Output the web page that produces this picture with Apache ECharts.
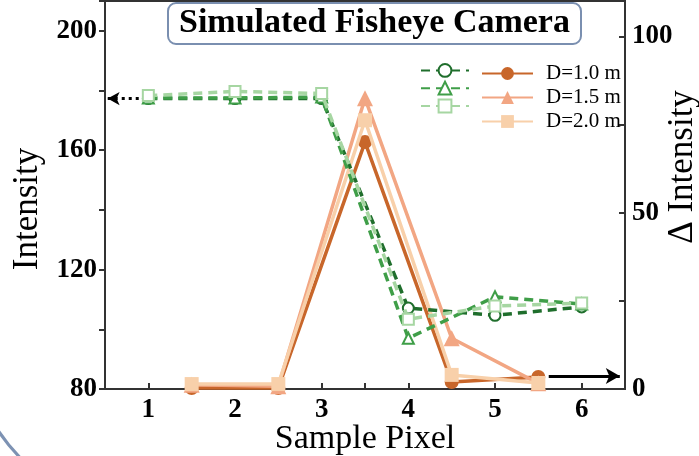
<!DOCTYPE html>
<html>
<head>
<meta charset="utf-8">
<script src="https://cdn.jsdelivr.net/npm/echarts@6/dist/echarts.min.js"></script>
<style>html,body{margin:0;padding:0;background:#fff;}#c{width:699px;height:456px;}</style>
</head>
<body>
<div id="c"></div>
<script>
// ---- data ----
const pixelsIntensity = [1, 2, 3, 4, 5, 6];
const pixelsDelta = [1.5, 2.5, 3.5, 4.5, 5.5];
const seriesLabels = ['D=1.0 m', 'D=1.5 m', 'D=2.0 m'];
const intensityD10 = [177.3, 177.3, 177.3, 107.1, 104.7, 107.5];
const intensityD15 = [177.5, 177.5, 177.8, 97.0, 110.9, 108.5];
const intensityD20 = [178.3, 179.7, 179.0, 103.4, 107.8, 108.8];
const deltaD10 = [0.3, 0.3, 70.0, 2.0, 3.4];
const deltaD15 = [1.2, 0.8, 82.4, 14.4, 1.6];
const deltaD20 = [1.4, 1.4, 76.2, 4.0, 1.7];
const xTickLabels = [1, 2, 3, 4, 5, 6];
const leftTickLabels = [80, 120, 160, 200];
const rightTickLabels = [0, 50, 100];
const leftArrow = [[0.97, 177.3], [0.53, 177.3]];
const rightArrow = [[5.62, 3.7], [6.44, 3.7]];

const serif = '"Liberation Serif", "Times New Roman", serif';
const greens = ['#1f6e2c', '#3f9e48', '#a6d6a2'];
const oranges = ['#c8662a', '#f2a683', '#f8d0aa'];
const gSymbols = ['emptyCircle', 'emptyTriangle', 'emptyRect'];
const oSymbols = ['circle', 'triangle', 'rect'];
const oSizes = [14, 16, 14];

const zip = (xs, ys) => xs.map((x, i) => [x, ys[i]]);
const intensities = [intensityD10, intensityD15, intensityD20];
const deltas = [deltaD10, deltaD15, deltaD20];

const series = [];
deltas.forEach((d, i) => {
  const s = {
    name: seriesLabels[i],
    type: 'line',
    xAxisIndex: 0, yAxisIndex: 1,
    data: zip(pixelsDelta, d),
    symbol: oSymbols[i], symbolSize: oSizes[i],
    lineStyle: { color: oranges[i], width: 3.5 },
    itemStyle: { color: oranges[i] },
    emphasis: { disabled: true },
    z: 2 + i
  };
  if (i === 0) {
    s.markLine = {
      silent: true, symbol: ['none', 'arrow'], symbolSize: [12, 14],
      label: { show: false },
      lineStyle: { color: '#000', width: 3, type: 'solid' },
      data: [[{ coord: rightArrow[0] }, { coord: rightArrow[1] }]]
    };
  }
  series.push(s);
});
intensities.forEach((d, i) => {
  const s = {
    name: 'Intensity ' + seriesLabels[i],
    type: 'line',
    xAxisIndex: 0, yAxisIndex: 0,
    data: zip(pixelsIntensity, d),
    symbol: gSymbols[i], symbolSize: 11,
    lineStyle: { color: greens[i], width: 3.5, type: [9, 6] },
    itemStyle: { color: greens[i], borderWidth: 2 },
    emphasis: { disabled: true },
    z: 6 + i
  };
  if (i === 0) {
    s.markLine = {
      silent: true, symbol: ['none', 'arrow'], symbolSize: [10, 12],
      label: { show: false },
      lineStyle: { color: '#000', width: 3, type: [3, 4] },
      data: [[{ coord: leftArrow[0] }, { coord: leftArrow[1] }]]
    };
  }
  series.push(s);
});

const axisLineStyle = { color: '#333', width: 2 };
const tickLabelStyle = { fontFamily: serif, fontWeight: 'bold', fontSize: 27, color: '#000' };

const option = {
  animation: false,
  backgroundColor: '#fff',
  title: {
    text: 'Simulated Fisheye Camera',
    left: 168, top: 3,
    padding: [1, 11, 1, 11],
    backgroundColor: '#fff',
    borderColor: '#7a8fb0', borderWidth: 2, borderRadius: 8,
    textStyle: { fontFamily: serif, fontWeight: 'bold', fontSize: 34, lineHeight: 39, color: '#000' }
  },
  legend: [
    {
      data: seriesLabels.map(n => 'Intensity ' + n),
      orient: 'vertical', left: 415, top: 58,
      itemWidth: 48, itemHeight: 16, itemGap: 3,
      formatter: () => '',
      textStyle: { fontSize: 1, lineHeight: 16 },
      selectedMode: false
    },
    {
      data: seriesLabels,
      orient: 'vertical', left: 476, top: 58,
      itemWidth: 51, itemHeight: 16, itemGap: 3,
      selectedMode: false,
      textStyle: { fontFamily: serif, fontSize: 21, lineHeight: 16, color: '#000', padding: [0, 0, 0, 8] }
    }
  ],
  grid: {
    left: 105, right: 74, top: 1, bottom: 67,
    outerBoundsMode: 'none', containLabel: false,
    show: true, borderColor: '#333', borderWidth: 2, backgroundColor: 'transparent'
  },
  xAxis: {
    type: 'value', min: 0.5, max: 6.5, interval: 0.5,
    name: 'Sample Pixel', nameLocation: 'middle', nameGap: 33, nameMoveOverlap: false,
    nameTextStyle: { fontFamily: serif, fontSize: 34, color: '#000' },
    axisLine: { lineStyle: axisLineStyle },
    axisTick: { inside: true, length: 6, lineStyle: { color: '#333', width: 2 } },
    axisLabel: {
      ...tickLabelStyle, margin: 8,
      formatter: v => xTickLabels.includes(v) ? String(v) : ''
    },
    splitLine: { show: false }
  },
  yAxis: [
    {
      type: 'value', min: 80, max: 210, interval: 20,
      name: 'Intensity', nameLocation: 'middle', nameGap: 60, nameRotate: 90, nameMoveOverlap: false,
      nameTextStyle: { fontFamily: serif, fontSize: 35, color: '#000', padding: [0, 28, 0, 0] },
      axisLine: { show: true, lineStyle: axisLineStyle },
      axisTick: { inside: false, length: 6, lineStyle: { color: '#333', width: 2 } },
      axisLabel: {
        ...tickLabelStyle, margin: 8,
        formatter: v => leftTickLabels.includes(v) ? String(v) : ''
      },
      splitLine: { show: false }
    },
    {
      type: 'value', min: 0, max: 110, interval: 25, position: 'right',
      name: 'Δ Intensity', nameLocation: 'middle', nameGap: 40, nameRotate: 90, nameMoveOverlap: false,
      nameTextStyle: { fontFamily: serif, fontSize: 35, color: '#000', padding: [0, 0, 0, 56] },
      axisLine: { show: true, lineStyle: axisLineStyle },
      axisTick: { inside: true, length: 6, lineStyle: { color: '#333', width: 2 } },
      axisLabel: {
        ...tickLabelStyle, margin: 7,
        formatter: v => rightTickLabels.includes(v) ? String(v) : ''
      },
      splitLine: { show: false }
    }
  ],
  graphic: [
    {
      type: 'arc', silent: true,
      shape: { cx: 150, cy: 330, r: 182, startAngle: 2.2, endAngle: 2.75 },
      style: { stroke: '#7d92b3', lineWidth: 3, fill: null }
    }
  ],
  series: series
};

const chart = echarts.init(document.getElementById('c'), null, { renderer: 'canvas' });
chart.setOption(option);
</script>
</body>
</html>
